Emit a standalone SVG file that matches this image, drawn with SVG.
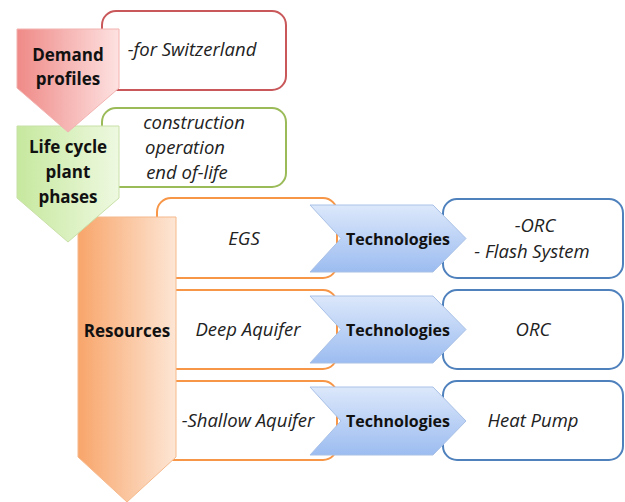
<svg xmlns="http://www.w3.org/2000/svg" width="625" height="502" viewBox="0 0 625 502">
<defs>
<linearGradient id="gRed" x1="0" y1="0" x2="1" y2="0"><stop offset="0" stop-color="#ef8a87"/><stop offset="1" stop-color="#fde2e1"/></linearGradient>
<linearGradient id="gGreen" x1="0" y1="0" x2="1" y2="0"><stop offset="0" stop-color="#c6e89e"/><stop offset="1" stop-color="#eef9e0"/></linearGradient>
<linearGradient id="gOrange" x1="0" y1="0" x2="1" y2="0"><stop offset="0" stop-color="#f8a56a"/><stop offset="1" stop-color="#fde6d5"/></linearGradient>
<linearGradient id="gBlue" x1="0" y1="0" x2="0" y2="1"><stop offset="0" stop-color="#dce8fb"/><stop offset="1" stop-color="#9cbcf0"/></linearGradient>
</defs>
<style>
.bold{font-family:"Open Sans","Liberation Sans",sans-serif;font-weight:bold;font-size:16px;fill:#111;text-anchor:middle}
.big{font-size:17px}
.it{font-family:"Open Sans","Liberation Sans",sans-serif;font-style:italic;font-size:18.5px;fill:#222;text-anchor:middle}
.box{fill:#fff;stroke-width:2}
.red{stroke:#c9585a}.green{stroke:#9bbb59}.orange{stroke:#f79646}.blue{stroke:#4f81bd}
.chev{fill:url(#gBlue);stroke:#a9c1e6;stroke-width:1}
</style>
<g id="resource-rows">
<rect class="box orange" x="157" y="198" width="180" height="80" rx="14"/>
<rect class="box orange" x="157" y="290" width="180" height="79" rx="14"/>
<rect class="box orange" x="157" y="381" width="180" height="79" rx="14"/>
<text class="it" x="244" y="245">EGS</text>
<text class="it" x="248" y="336">Deep Aquifer</text>
<text class="it" x="248" y="427">-Shallow Aquifer</text>
</g>
<g id="resources">
<path d="M78 217 H176 V457 L127 502 L78 457 Z" fill="url(#gOrange)" stroke="#f5b98c" stroke-width="1"/>
<text class="bold big" x="127" y="337">Resources</text>
</g>
<g id="lifecycle-box">
<rect class="box green" x="102" y="108" width="184" height="79" rx="14"/>
<text class="it" x="194" y="129">construction</text>
<text class="it" x="185" y="154">operation</text>
<text class="it" x="187" y="179">end of-life</text>
</g>
<g id="lifecycle">
<path d="M17 126 H119 V198 L68 242 L17 198 Z" fill="url(#gGreen)" stroke="#c9e0a8" stroke-width="1"/>
<text class="bold big" x="68" y="153">Life cycle</text>
<text class="bold big" x="68" y="178">plant</text>
<text class="bold big" x="68" y="203">phases</text>
</g>
<g id="demand-box">
<rect class="box red" x="102" y="11" width="184" height="79" rx="14"/>
<text class="it" x="192" y="56">-for Switzerland</text>
</g>
<g id="demand">
<path d="M17 29 H119 V88 L68 132 L17 88 Z" fill="url(#gRed)" stroke="#f2b3b1" stroke-width="1"/>
<text class="bold big" x="68" y="61">Demand</text>
<text class="bold big" x="68" y="85">profiles</text>
</g>
<g id="outputs">
<rect class="box blue" x="443" y="199" width="180" height="79" rx="14"/>
<rect class="box blue" x="443" y="290" width="180" height="79" rx="14"/>
<rect class="box blue" x="443" y="381" width="180" height="79" rx="14"/>
<text class="it" x="535" y="232">-ORC</text>
<text class="it" x="532" y="258">- Flash System</text>
<text class="it" x="533" y="336">ORC</text>
<text class="it" x="533" y="427">Heat Pump</text>
</g>
<g id="technologies">
<path class="chev" d="M310 205 H433 L466 238.5 L433 272 H310 L341 238.5 Z"/>
<path class="chev" d="M310 296 H433 L466 329.5 L433 363 H310 L341 329.5 Z"/>
<path class="chev" d="M310 387 H433 L466 421 L433 455 H310 L341 421 Z"/>
<text class="bold" x="398" y="245">Technologies</text>
<text class="bold" x="398" y="336">Technologies</text>
<text class="bold" x="398" y="427">Technologies</text>
</g>
</svg>
